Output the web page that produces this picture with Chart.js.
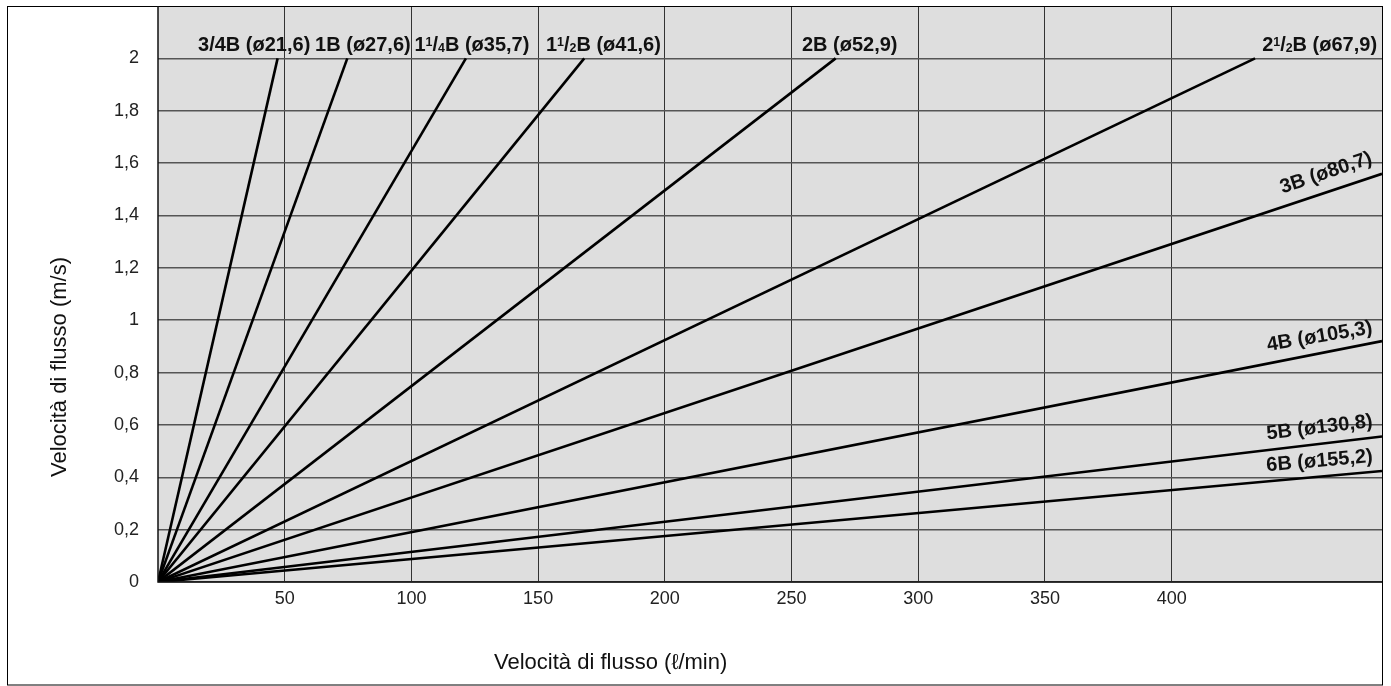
<!DOCTYPE html>
<html>
<head>
<meta charset="utf-8">
<title>Velocità di flusso</title>
<script src="https://cdn.jsdelivr.net/npm/chart.js@4.4.1/dist/chart.umd.min.js"></script>
<style>
  html, body { margin: 0; padding: 0; background: #fff; }
  #wrap { width: 1391px; height: 686px; position: relative; }
</style>
</head>
<body>
<div id="wrap"><canvas id="flow-chart"></canvas></div>
<script>
// pipe sizes and where each line ends (flow l/min, velocity m/s)
const pipeNames = ['3/4B (ø21,6)', '1B (ø27,6)', '1¹/₄B (ø35,7)', '1¹/₂B (ø41,6)', '2B (ø52,9)', '2¹/₂B (ø67,9)', '3B (ø80,7)', '4B (ø105,3)', '5B (ø130,8)', '6B (ø155,2)'];
const endFlow = [47.2, 74.7, 121.5, 168.2, 267.4, 432.9, 483, 483, 483, 483];
const endVelocity = [2, 2, 2, 2, 2, 2, 1.559, 0.92, 0.556, 0.424];
const xTicks = [50, 100, 150, 200, 250, 300, 350, 400];
const yTicks = [0, 0.2, 0.4, 0.6, 0.8, 1, 1.2, 1.4, 1.6, 1.8, 2];
const xTitle = 'Velocità di flusso (ℓ/min)';
const yTitle = 'Velocità di flusso (m/s)';

const fontFamily = '"Liberation Sans", Arial, Helvetica, sans-serif';

// where the pipe names go (data units), top row is left aligned, the rest follow their line
const labelPlace = [
    {x: 15.8, y: 2.028, align: 'left', angle: 0},
    {x: 62.0, y: 2.028, align: 'left', angle: 0},
    {x: 101.2, y: 2.028, align: 'left', angle: 0},
    {x: 153.1, y: 2.028, align: 'left', angle: 0},
    {x: 254.1, y: 2.028, align: 'left', angle: 0},
    {x: 435.7, y: 2.028, align: 'left', angle: 0},
    {x: 479.5, y: 1.600, align: 'right', angle: -18.5},
    {x: 479.5, y: 0.950, align: 'right', angle: -9.5},
    {x: 479.5, y: 0.592, align: 'right', angle: -6.7},
    {x: 479.5, y: 0.458, align: 'right', angle: -4.9}
];

// small raised / lowered digits for the fractions
const supChars = {'¹': '1', '²': '2'};
const subChars = {'₂': '2', '₄': '4'};

function richWidth(ctx, text, size) {
    let w = 0;
    for (const ch of text) {
        if (supChars[ch] || subChars[ch]) {
            ctx.font = 'bold ' + (size * 0.62) + 'px ' + fontFamily;
            w += ctx.measureText(supChars[ch] || subChars[ch]).width;
        } else {
            ctx.font = 'bold ' + size + 'px ' + fontFamily;
            w += ctx.measureText(ch).width;
        }
    }
    return w;
}

function drawRich(ctx, text, x, y, size) {
    const small = size * 0.62;
    for (const ch of text) {
        if (supChars[ch]) {
            ctx.font = 'bold ' + small + 'px ' + fontFamily;
            ctx.fillText(supChars[ch], x, y - (size - small) * 0.72);
            x += ctx.measureText(supChars[ch]).width;
        } else if (subChars[ch]) {
            ctx.font = 'bold ' + small + 'px ' + fontFamily;
            ctx.fillText(subChars[ch], x, y + 1);
            x += ctx.measureText(subChars[ch]).width;
        } else {
            ctx.font = 'bold ' + size + 'px ' + fontFamily;
            ctx.fillText(ch, x, y);
            x += ctx.measureText(ch).width;
        }
    }
}

const framePlugin = {
    id: 'frame',
    beforeDraw(chart) {
        const ctx = chart.ctx;
        const a = chart.chartArea;
        ctx.save();
        ctx.fillStyle = '#ffffff';
        ctx.fillRect(0, 0, chart.width, chart.height);
        ctx.fillStyle = '#dedede';
        ctx.fillRect(a.left, a.top, a.right - a.left, a.bottom - a.top);
        ctx.restore();
    },
    afterDraw(chart) {
        const ctx = chart.ctx;
        const a = chart.chartArea;
        ctx.save();
        ctx.strokeStyle = '#000';
        ctx.lineWidth = 1;
        ctx.strokeRect(7.5, 6.5, a.right - 7, chart.height - 7.5);
        ctx.lineWidth = 1.5;
        ctx.strokeStyle = '#111';
        ctx.beginPath();
        ctx.moveTo(a.left, a.top);
        ctx.lineTo(a.left, a.bottom);
        ctx.lineTo(a.right, a.bottom);
        ctx.stroke();

        // axis titles
        ctx.fillStyle = '#111';
        ctx.font = '22px ' + fontFamily;
        ctx.textAlign = 'left';
        ctx.textBaseline = 'alphabetic';
        ctx.fillText(xTitle, 494, 669);
        ctx.translate(66, 367);
        ctx.rotate(-Math.PI / 2);
        ctx.textAlign = 'center';
        ctx.fillText(yTitle, 0, 0);
        ctx.restore();
    }
};

const labelPlugin = {
    id: 'pipeLabels',
    afterDatasetsDraw(chart) {
        const ctx = chart.ctx;
        const xs = chart.scales.x;
        const ys = chart.scales.y;
        ctx.save();
        ctx.fillStyle = '#111';
        ctx.textAlign = 'left';
        ctx.textBaseline = 'alphabetic';
        pipeNames.forEach((name, i) => {
            const p = labelPlace[i];
            ctx.save();
            ctx.translate(xs.getPixelForValue(p.x), ys.getPixelForValue(p.y));
            ctx.rotate(p.angle * Math.PI / 180);
            const w = richWidth(ctx, name, 20);
            drawRich(ctx, name, p.align == 'right' ? -w : 0, 0, 20);
            ctx.restore();
        });
        ctx.restore();
    }
};

let datasets = [];
for (let i = 0; i < pipeNames.length; i++) {
    datasets.push({
        label: pipeNames[i],
        data: [{x: 0, y: 0}, {x: endFlow[i], y: endVelocity[i]}],
        showLine: true,
        borderColor: '#000',
        borderWidth: 2.6,
        pointRadius: 0,
        fill: false
    });
}

const flowChart = new Chart('flow-chart', {
    type: 'scatter',
    data: { datasets: datasets },
    options: {
        responsive: true,
        maintainAspectRatio: false,
        devicePixelRatio: 1,
        animation: false,
        events: [],
        layout: { padding: { top: 6, right: 9, left: 0, bottom: 0 } },
        plugins: {
            legend: { display: false },
            tooltip: { enabled: false }
        },
        scales: {
            x: {
                type: 'linear',
                min: 0,
                max: 483,
                afterBuildTicks: s => { s.ticks = xTicks.map(v => ({value: v})); },
                afterFit: s => { s.height = 104; s.paddingLeft = 0; s.paddingRight = 0; },
                grid: { color: '#333', lineWidth: 1, drawTicks: false },
                border: { display: false },
                ticks: {
                    autoSkip: false,
                    maxRotation: 0,
                    padding: 6,
                    color: '#222',
                    font: { size: 18, family: fontFamily },
                    callback: v => String(v)
                }
            },
            y: {
                type: 'linear',
                min: 0,
                max: 2.2,
                afterBuildTicks: s => { s.ticks = yTicks.map(v => ({value: v})); },
                afterFit: s => { s.width = 158; s.paddingTop = 0; s.paddingBottom = 0; },
                grid: { color: '#555', lineWidth: 1.5, drawTicks: false },
                border: { display: false },
                ticks: {
                    autoSkip: false,
                    padding: 19,
                    color: '#222',
                    font: { size: 18, family: fontFamily },
                    callback: v => String(v).replace('.', ',')
                }
            }
        }
    },
    plugins: [framePlugin, labelPlugin]
});
</script>
</body>
</html>
